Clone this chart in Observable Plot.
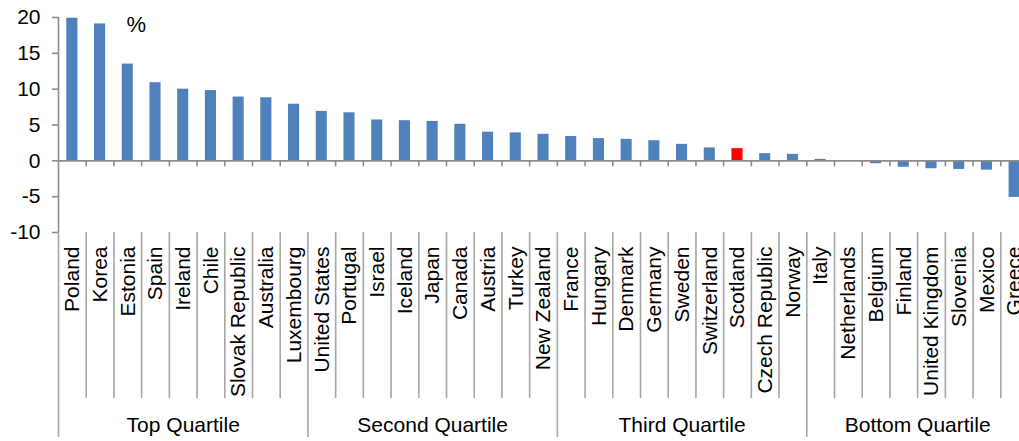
<!DOCTYPE html>
<html><head><meta charset="utf-8">
<script src="https://cdn.jsdelivr.net/npm/d3@7"></script>
<script src="https://cdn.jsdelivr.net/npm/@observablehq/plot@0.6"></script>
<style>
html,body{margin:0;padding:0;background:#fff;overflow:hidden;}
</style></head><body><div id="chart"></div>
<script>
const countries = ["Poland","Korea","Estonia","Spain","Ireland","Chile","Slovak Republic","Australia","Luxembourg",
  "United States","Portugal","Israel","Iceland","Japan","Canada","Austria","Turkey","New Zealand",
  "France","Hungary","Denmark","Germany","Sweden","Switzerland","Scotland","Czech Republic","Norway",
  "Italy","Netherlands","Belgium","Finland","United Kingdom","Slovenia","Mexico","Greece"];
const values = [19.9,19.1,13.5,10.9,10.0,9.8,8.9,8.8,7.9,
  6.9,6.7,5.7,5.6,5.5,5.1,4.0,3.9,3.7,
  3.4,3.1,3.0,2.8,2.3,1.8,1.7,1.0,0.9,
  0.2,0.0,-0.4,-0.9,-1.1,-1.2,-1.3,-5.1];
const groups = ["Top Quartile","Second Quartile","Third Quartile","Bottom Quartile"];
const groupSizes = [9,9,9,8];
const highlight = "Scotland";
const yTicks = [-10,-5,0,5,10,15,20];
const yLabel = "%";

const blue = "#4F81BD", red = "#FF0000", gray = "#8c8c8c", sepGray = "#a6a6a6";
const n = countries.length;
const data = countries.map((c, i) => ({country: c, value: values[i], i}));
let acc = 0;
const groupData = groups.map((g, k) => { const d = {group: g, start: acc, end: acc + groupSizes[k]}; acc += groupSizes[k]; return d; });
const groupStarts = groupData.map(g => g.start);
const bounds = d3.range(0, n + 1);
const innerBounds = bounds.filter(b => !groupStarts.includes(b) && b < n);
const yMin = d3.min(yTicks), yMax = d3.max(yTicks);

const chart = Plot.plot({
  width: 1028, height: 441,
  marginLeft: 58, marginRight: 0, marginTop: 17, marginBottom: 209,
  x: {type: "linear", domain: [0, n], axis: null},
  y: {domain: [yMin, yMax], axis: null},
  style: {fontFamily: "'Liberation Sans', Arial, sans-serif", fontSize: "21px", maxWidth: "none", overflow: "visible", background: "#fff", color: "#000"},
  marks: [
    Plot.rectY(data, {x1: d => d.i + 0.3, x2: d => d.i + 0.7, y1: d => 0, y2: "value",
      fill: d => d.country === highlight ? red : blue}),
    Plot.ruleY([0], {x1: () => 0, x2: () => n, stroke: gray, strokeWidth: 1.6}),
    Plot.ruleX(bounds.slice(1), {x: d => d, y1: () => 0, y2: () => 0, insetBottom: -6, stroke: gray, strokeWidth: 1.6}),
    Plot.ruleX([0], {x: d => d, y1: () => yMin, y2: () => yMax, stroke: gray, strokeWidth: 1.6}),
    Plot.axisY({ticks: yTicks, tickFormat: d => String(d), tickSize: 6, tickPadding: 12, fontSize: 21,
      stroke: gray, strokeWidth: 1.6, fill: "#000", label: null}),
    Plot.ruleX(innerBounds, {x: d => d, y1: () => yMin, y2: () => yMin, insetBottom: -166, stroke: sepGray, strokeWidth: 1.6}),
    Plot.ruleX(groupStarts, {x: d => d, y1: () => yMin, y2: () => yMin, insetBottom: -205, stroke: sepGray, strokeWidth: 1.6}),
    Plot.text(data, {x: d => d.i + 0.5, y: () => yMin, text: "country", rotate: -90,
      textAnchor: "end", lineAnchor: "middle", dy: 14, fontSize: 21, fill: "#000"}),
    Plot.text(groupData, {x: d => (d.start + d.end) / 2, y: () => yMin, text: "group",
      lineAnchor: "middle", dy: 193, fontSize: 21, fill: "#000"}),
    Plot.text([yLabel], {frameAnchor: "top-left", text: d => d, dx: 68, dy: 7,
      textAnchor: "start", lineAnchor: "middle", fontSize: 22, fill: "#000"})
  ]
});
document.getElementById("chart").appendChild(chart);
</script></body></html>
